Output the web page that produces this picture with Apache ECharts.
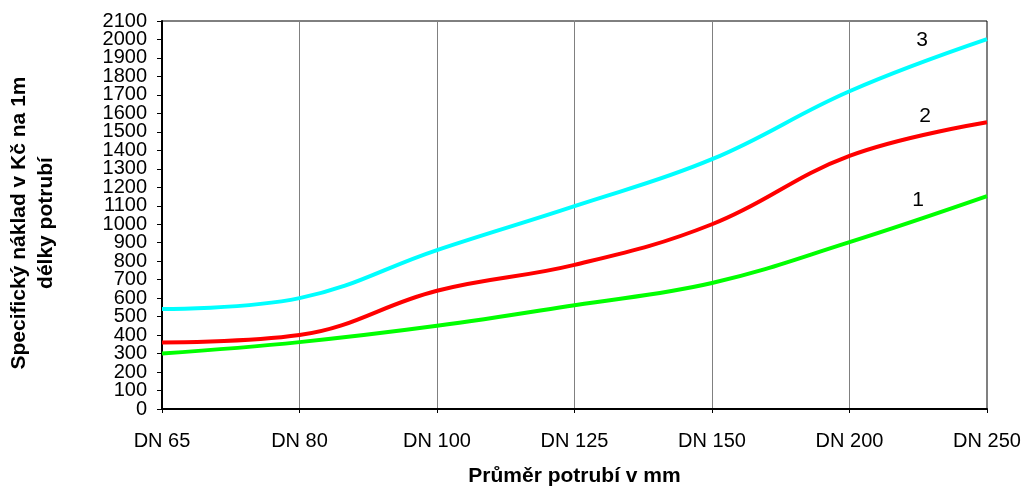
<!DOCTYPE html>
<html>
<head>
<meta charset="utf-8">
<script src="https://cdn.jsdelivr.net/npm/echarts@6/dist/echarts.min.js"></script>
<style>html,body{margin:0;padding:0;background:#fff}#c{width:1026px;height:488px}</style>
</head>
<body>
<div id="c"></div>
<script>
const categories = ['DN 65', 'DN 80', 'DN 100', 'DN 125', 'DN 150', 'DN 200', 'DN 250'];
const series1 = [300, 362, 450, 562, 682, 903, 1152];
const series2 = [360, 400, 640, 780, 1000, 1370, 1552];
const series3 = [541, 600, 860, 1098, 1352, 1720, 2002];
const lineNames = ['1', '2', '3'];
const yTicks = [0, 100, 200, 300, 400, 500, 600, 700, 800, 900, 1000, 1100, 1200, 1300, 1400, 1500, 1600, 1700, 1800, 1900, 2000, 2100];
const yTicksEven = yTicks.filter(function (v, i) { return i % 2 === 0; });
const yTicksOdd = yTicks.filter(function (v, i) { return i % 2 === 1; });

const chart = echarts.init(document.getElementById('c'));
const font = 'Arial, "Liberation Sans", sans-serif';

function mkSeries(data, color, name, offset) {
  return {
    name: name,
    type: 'line',
    data: data,
    smooth: 0.4,
    symbol: 'none',
    yAxisIndex: 0,
    lineStyle: { color: color, width: 4 },
    z: 3,
    markPoint: {
      symbol: 'circle',
      symbolSize: 0,
      data: [{ coord: [categories[categories.length - 1], data[data.length - 1]] }],
      label: {
        show: true,
        formatter: name,
        color: '#000',
        fontFamily: font,
        fontSize: 21,
        offset: offset
      }
    }
  };
}

function labelAxis(values, withLine) {
  return {
    type: 'value',
    position: 'left',
    min: 0,
    max: 2100,
    interval: 100,
    axisLine: { show: withLine, lineStyle: { color: '#000', width: 2 } },
    axisTick: { show: withLine, length: 5, lineStyle: { color: '#000' }, customValues: yTicks },
    axisLabel: {
      color: '#000', fontFamily: font, fontSize: 20, margin: 15,
      customValues: values,
      showMinLabel: true, showMaxLabel: true, hideOverlap: false,
      formatter: function (v) { return String(v); }
    },
    splitLine: { show: false }
  };
}

chart.setOption({
  animation: false,
  grid: { left: 162, right: 39, top: 21, bottom: 79, show: true, borderColor: '#000', borderWidth: 1, outerBoundsMode: 'none', containLabel: false },
  xAxis: {
    type: 'category',
    data: categories,
    boundaryGap: false,
    name: 'Průměr potrubí v mm',
    nameLocation: 'middle',
    nameGap: 57,
    nameTextStyle: { fontFamily: font, fontSize: 21, fontWeight: 'bold', color: '#000' },
    axisLine: { lineStyle: { color: '#000', width: 2 } },
    axisTick: { show: true, length: 4, lineStyle: { color: '#000' } },
    axisLabel: { color: '#000', fontFamily: font, fontSize: 20, margin: 22 },
    splitLine: { show: true, lineStyle: { color: '#808080', width: 1 } }
  },
  yAxis: [labelAxis(yTicksEven, true), labelAxis(yTicksOdd, false)],
  graphic: [{
    type: 'text',
    x: 33,
    y: 223,
    rotation: Math.PI / 2,
    style: {
      text: 'Specifický náklad v Kč na 1m\ndélky potrubí',
      fontFamily: font,
      fontSize: 21,
      fontWeight: 'bold',
      fill: '#000',
      align: 'center',
      verticalAlign: 'middle',
      lineHeight: 27
    }
  }],
  series: [
    mkSeries(series1, '#00FF00', lineNames[0], [-69, 4]),
    mkSeries(series2, '#FF0000', lineNames[1], [-62, -6]),
    mkSeries(series3, '#00FFFF', lineNames[2], [-65, 1])
  ]
});
</script>
</body>
</html>
